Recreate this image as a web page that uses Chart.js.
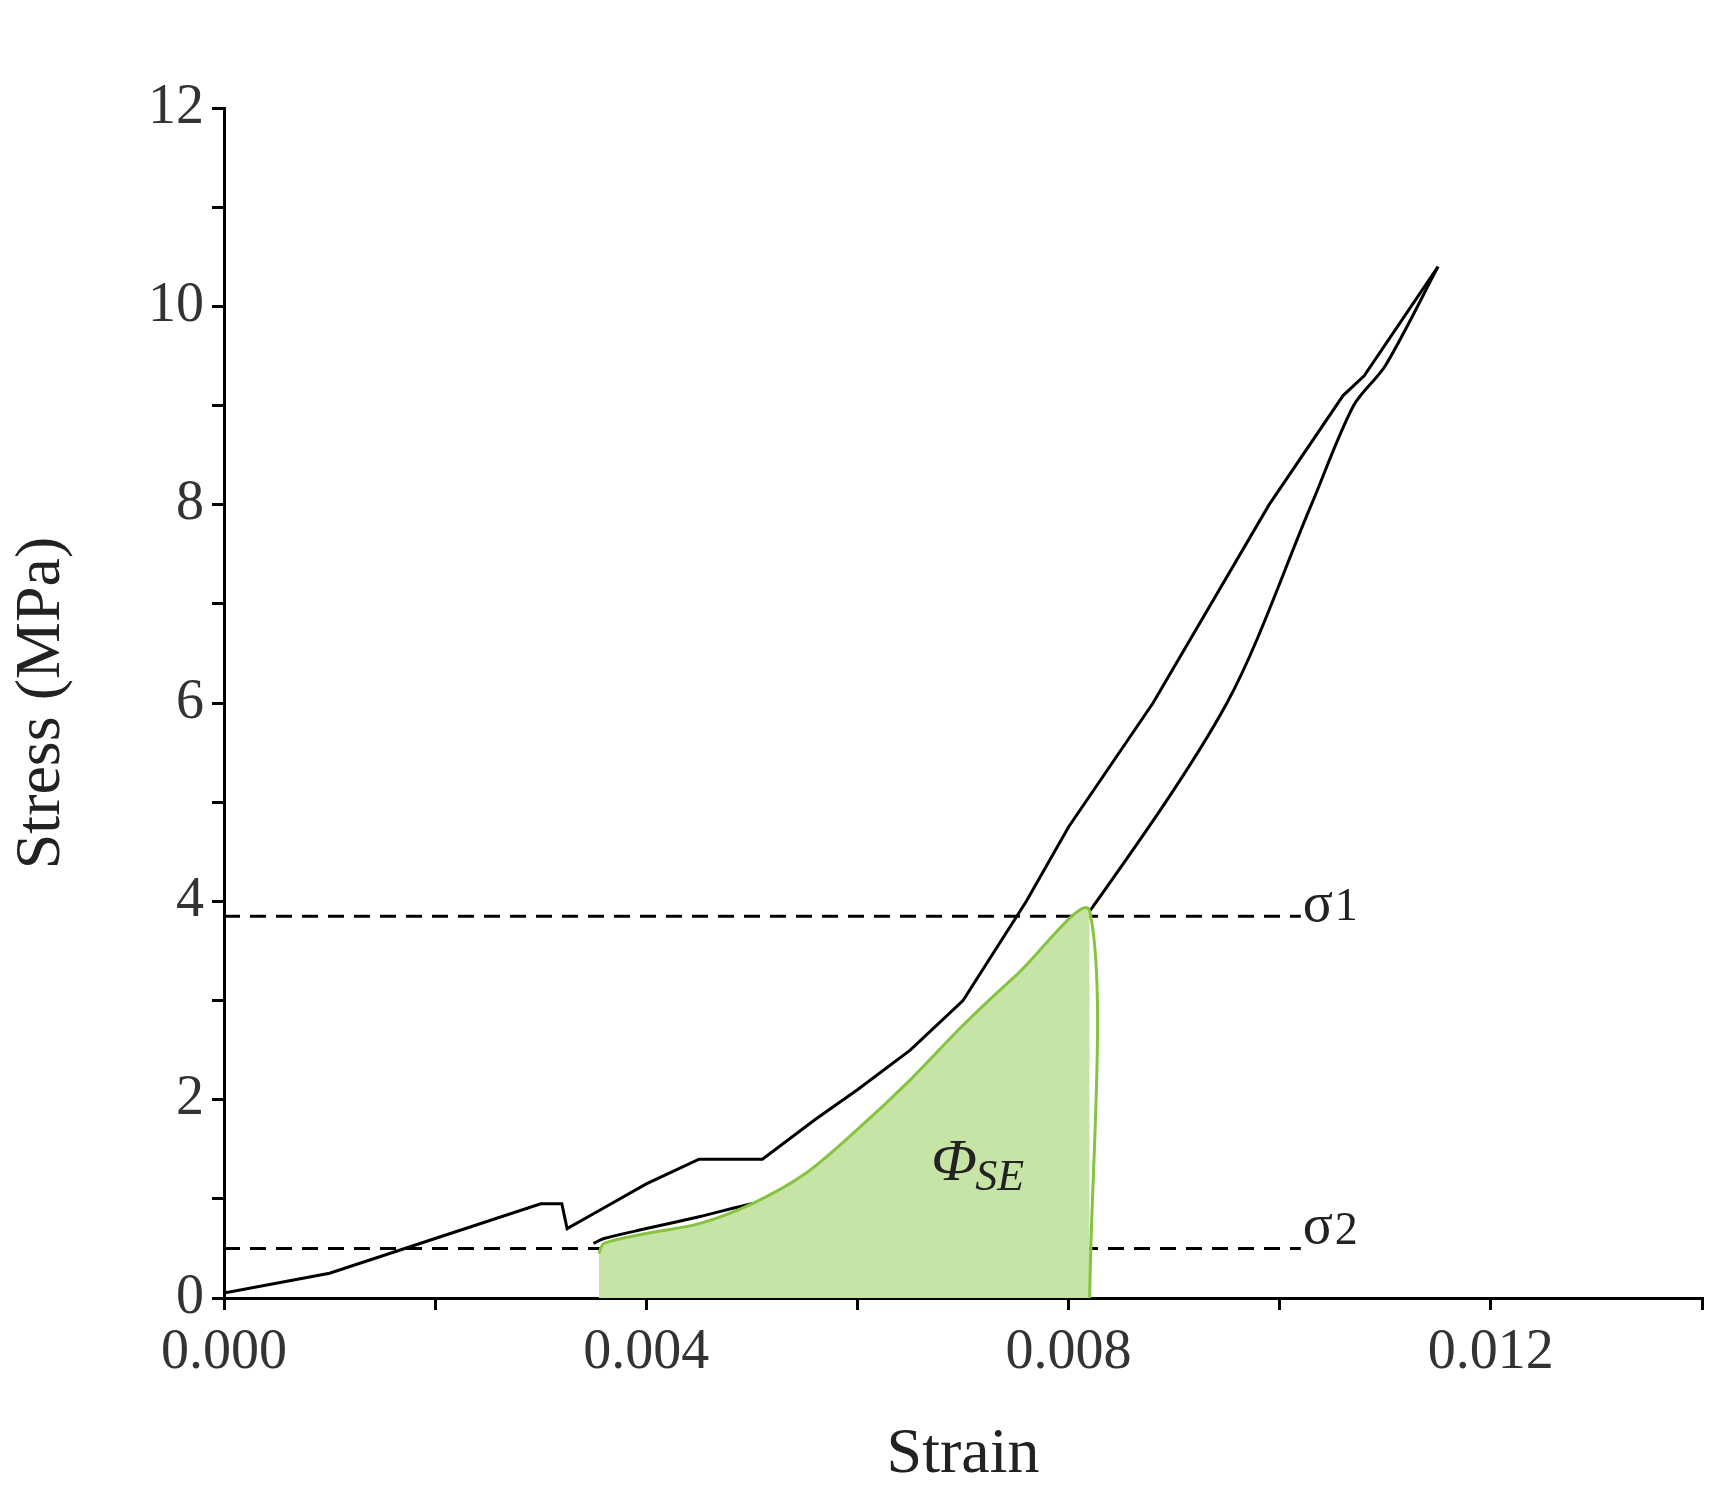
<!DOCTYPE html>
<html lang="en">
<head>
    <meta charset="UTF-8">
    <title>Stress-Strain</title>
    <script src="https://cdn.jsdelivr.net/npm/chart.js"></script>
    <style>
        body { margin: 0; background: #fff; }
        #wrap { width: 1724px; height: 1498px; }
    </style>
</head>
<body>
    <div id="wrap"><canvas id="chart"></canvas></div>
    <script>
        // loading branch (upper curve)
        const loadStrain = [0, 0.001, 0.002, 0.003, 0.0032, 0.00325, 0.0035, 0.004, 0.0045, 0.0051, 0.0056, 0.006, 0.0065, 0.007, 0.0076, 0.008, 0.0088, 0.0099, 0.0106, 0.0108, 0.0115];
        const loadStress = [0.05, 0.25, 0.6, 0.95, 0.95, 0.7, 0.85, 1.15, 1.4, 1.4, 1.8, 2.1, 2.5, 3.0, 4.0, 4.75, 6.0, 8.0, 9.1, 9.3, 10.4];
        // unloading branch (lower curve)
        const unloadStrain = [0.0115, 0.0110, 0.0107, 0.0103, 0.0095, 0.0082, 0.0075, 0.007, 0.0065, 0.006, 0.0055, 0.005, 0.0045, 0.004, 0.0036, 0.0035];
        const unloadStress = [10.4, 9.4, 9.0, 8.0, 6.0, 3.9, 3.0, 2.3, 1.75, 1.3, 1.05, 0.95, 0.82, 0.7, 0.6, 0.55];
        // shaded energy area
        const areaStrain = [0.00355, 0.0036, 0.004, 0.0045, 0.005, 0.0055, 0.006, 0.0065, 0.007, 0.0075, 0.0082, 0.0082];
        const areaStress = [0.45, 0.55, 0.65, 0.75, 0.95, 1.25, 1.7, 2.2, 2.75, 3.25, 3.9, -0.09];
        const sigma1 = 3.85, sigma2 = 0.5, sigmaEnd = 0.0102;

        const pts = (xs, ys) => xs.map((x, i) => ({ x: x, y: ys[i] }));
        const serif = "'Liberation Serif', 'DejaVu Serif', serif";

        const labels = {
            id: 'labels',
            afterDatasetsDraw(chart) {
                const c = chart.ctx, xs = chart.scales.x, ys = chart.scales.y;
                c.save();
                c.fillStyle = '#222';
                c.textBaseline = 'middle';
                c.font = `56px ${serif}`;
                c.fillText('σ', xs.getPixelForValue(sigmaEnd) + 2, ys.getPixelForValue(sigma1) - 10);
                c.fillText('σ', xs.getPixelForValue(sigmaEnd) + 2, ys.getPixelForValue(sigma2) - 20);
                c.font = `46px ${serif}`;
                c.fillText('1', xs.getPixelForValue(sigmaEnd) + 34, ys.getPixelForValue(sigma1) - 8);
                c.fillText('2', xs.getPixelForValue(sigmaEnd) + 34, ys.getPixelForValue(sigma2) - 16);
                c.font = `italic 60px ${serif}`;
                const px = xs.getPixelForValue(0.0067), py = ys.getPixelForValue(1.35);
                c.fillText('Φ', px, py);
                c.font = `italic 44px ${serif}`;
                c.fillText('SE', px + 44, py + 14);
                c.restore();
            }
        };

        const line = { showLine: true, borderColor: '#000', borderWidth: 3, pointRadius: 0 };

        new Chart(document.getElementById('chart'), {
            type: 'scatter',
            data: {
                datasets: [
                    { data: pts(areaStrain, areaStress), showLine: true, fill: { value: -0.09 }, backgroundColor: '#c6e4a6', borderColor: '#86c440', borderWidth: 3, pointRadius: 0, tension: 0.3 },
                    { ...line, data: pts(loadStrain, loadStress) },
                    { ...line, data: pts(unloadStrain, unloadStress), tension: 0.3 },
                    { ...line, data: pts([0, sigmaEnd], [sigma1, sigma1]), borderDash: [16, 10] },
                    { ...line, data: pts([0, sigmaEnd], [sigma2, sigma2]), borderDash: [16, 10] }
                ]
            },
            options: {
                responsive: true,
                maintainAspectRatio: false,
                animation: false,
                layout: { padding: { top: 108, right: 22, left: 0, bottom: 0 } },
                plugins: { legend: { display: false }, tooltip: { enabled: false } },
                scales: {
                    x: {
                        type: 'linear', min: 0, max: 0.014,
                        afterFit: s => { s.height = 200; },
                        border: { color: '#000', width: 3 },
                        grid: { display: true, drawOnChartArea: false, drawTicks: true, tickLength: 12, tickColor: '#000', lineWidth: 3 },
                        ticks: {
                            stepSize: 0.002, color: '#333', padding: 10,
                            font: { family: serif, size: 56 },
                            callback: v => (Math.round(v * 1000) % 4 === 0 ? v.toFixed(3) : '')
                        },
                        title: { display: true, text: 'Strain', color: '#222', font: { family: serif, size: 64 }, padding: { top: 20 } }
                    },
                    y: {
                        type: 'linear', min: 0, max: 12,
                        afterFit: s => { s.width = 224; },
                        border: { color: '#000', width: 3 },
                        grid: { display: true, drawOnChartArea: false, drawTicks: true, tickLength: 12, tickColor: '#000', lineWidth: 3 },
                        ticks: {
                            stepSize: 1, color: '#333', padding: 8,
                            font: { family: serif, size: 56 },
                            callback: v => (v % 2 === 0 ? String(v) : '')
                        },
                        title: { display: true, text: 'Stress (MPa)', color: '#222', font: { family: serif, size: 64 }, padding: { bottom: 10 } }
                    }
                }
            },
            plugins: [labels]
        });
    </script>
</body>
</html>
